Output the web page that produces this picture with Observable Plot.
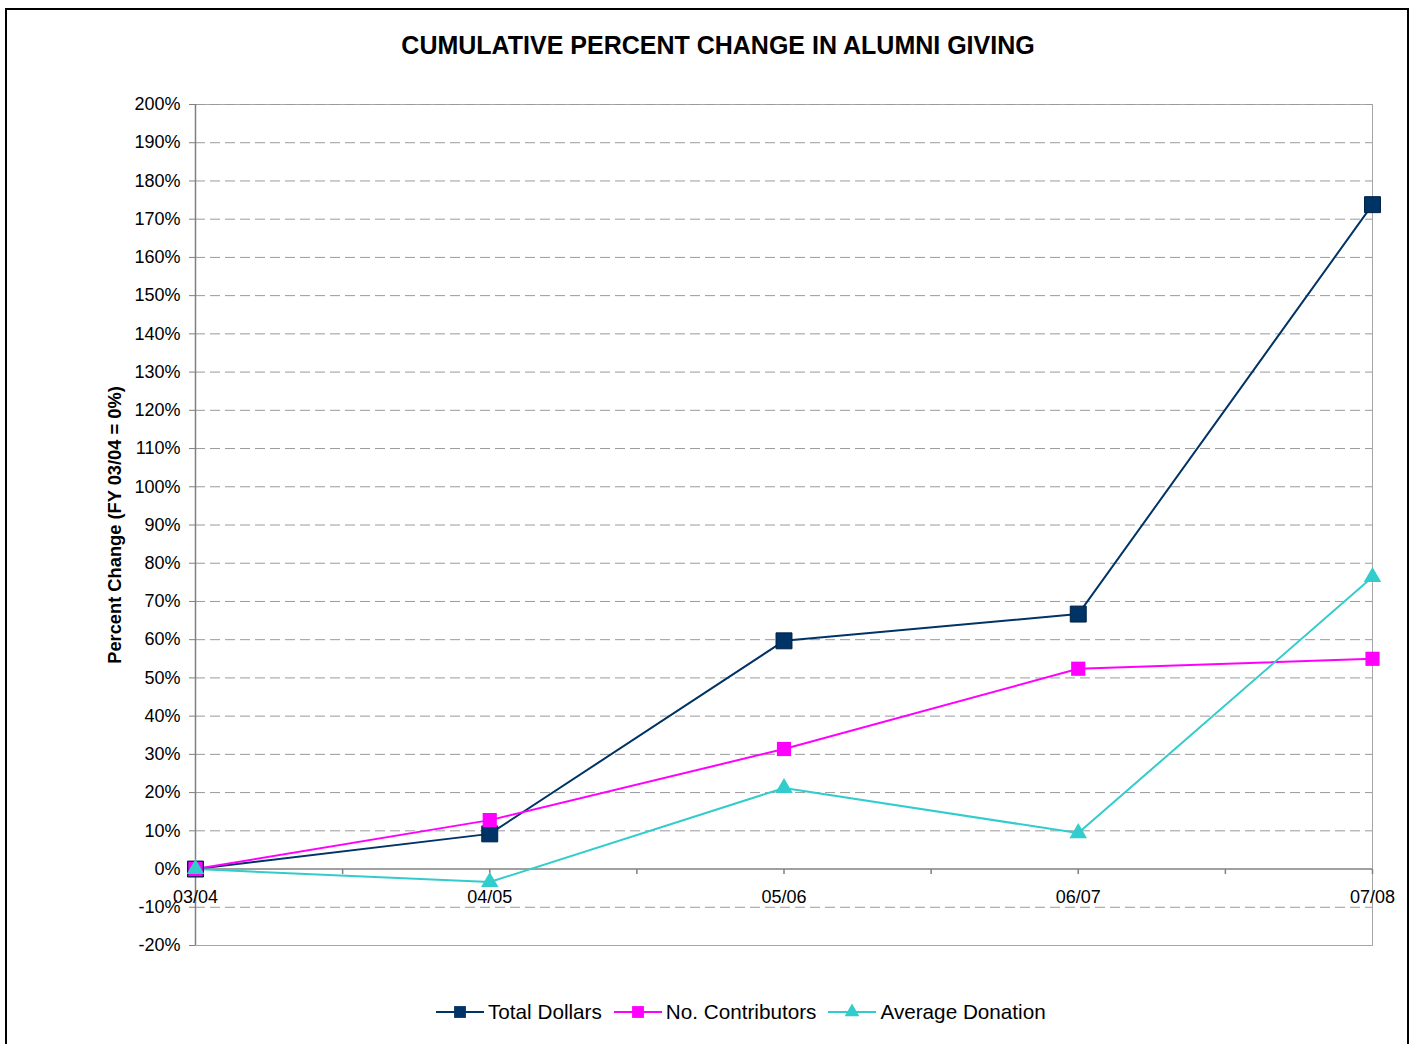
<!DOCTYPE html>
<html><head><meta charset="utf-8">
<script src="https://cdn.jsdelivr.net/npm/d3@7"></script>
<script src="https://cdn.jsdelivr.net/npm/@observablehq/plot@0.6"></script>
<style>
body{margin:0;background:#fff;font-family:Arial,"Liberation Sans",sans-serif;color:#000;}
#page{position:relative;width:1418px;height:1044px;overflow:hidden;}
#border{position:absolute;left:5px;top:8px;width:1400px;height:1100px;border:2px solid #000;}
#title{position:absolute;left:16px;width:1404px;top:30px;text-align:center;font-weight:bold;font-size:25px;line-height:30px;}
#chart{position:absolute;left:0;top:70px;}
#ylabel{position:absolute;left:115px;top:525px;transform:translate(-50%,-50%) rotate(-90deg);font-weight:bold;font-size:18.3px;white-space:nowrap;}
#legend{position:absolute;left:436px;top:1000px;display:flex;align-items:center;font-size:20.7px;height:24px;}
.item{display:flex;align-items:center;margin-right:12px;}
.item span{margin-left:4px;}
</style>
</head><body>
<div id="page">
  <div id="border"></div>
  <div id="title">CUMULATIVE PERCENT CHANGE IN ALUMNI GIVING</div>
  <div id="chart"></div>
  <div id="ylabel">Percent Change (FY 03/04 = 0%)</div>
  <div id="legend"></div>
</div>
<script>
// ---- data ----
const years = ["03/04", "04/05", "05/06", "06/07", "07/08"];
const totalDollars = [0, 9.2, 59.7, 66.7, 173.8];
const noContributors = [0, 12.8, 31.4, 52.4, 55.0];
const averageDonation = [0, -3.4, 21.2, 9.4, 76.4];
const seriesNames = ["Total Dollars", "No. Contributors", "Average Donation"];
const seriesColors = ["#003366", "#FF00FF", "#33CCCC"];
const yTicks = d3.range(-20, 201, 10);

const seriesValues = [totalDollars, noContributors, averageDonation];
const symbols = ["square", "square", "triangle"];
const radii = [9, 8, 6.5];

const tickDown = {draw(ctx) { ctx.moveTo(0, 0); ctx.lineTo(0, 5); }};
const xTickPos = d3.range(0, years.length - 1 + 0.01, 0.5);

const marks = [
  Plot.frame({stroke: "#a6a6a6"}),
  Plot.ruleY(yTicks.filter(d => d !== 0 && d !== -20), {stroke: "#9a9a9a", strokeDasharray: "10,5", strokeWidth: 1}),
  Plot.ruleX([0], {stroke: "#808080", strokeWidth: 1.5}),
  Plot.ruleY([0], {stroke: "#808080", strokeWidth: 1.5}),
  Plot.dot(xTickPos, {x: d => d, y: () => 0, symbol: tickDown, stroke: "#808080", fill: "none", r: 3}),
  Plot.axisY({ticks: yTicks, tickFormat: d => d + "%", tickSize: 6, tickPadding: 9, fontSize: 18, stroke: "#808080", fill: "#000", label: null}),
  Plot.text(years, {x: (d, i) => i, y: () => 0, text: d => d, dy: 28, fontSize: 18, fill: "#000"})
];
seriesValues.forEach((vals, s) => {
  marks.push(Plot.line(years, {x: (d, i) => i, y: (d, i) => vals[i], stroke: seriesColors[s], strokeWidth: 2}));
});
seriesValues.forEach((vals, s) => {
  marks.push(Plot.dot(years, {x: (d, i) => i, y: (d, i) => vals[i], symbol: symbols[s], r: radii[s],
    fill: seriesColors[s], stroke: s === 0 ? "#002244" : "none", strokeWidth: 1}));
});

const chart = Plot.plot({
  width: 1418,
  height: 910,
  marginLeft: 195,
  marginRight: 46,
  marginTop: 34,
  marginBottom: 35,
  x: {type: "linear", domain: [0, years.length - 1], axis: null},
  y: {type: "linear", domain: [-20, 200], axis: null},
  style: {fontFamily: "Arial, 'Liberation Sans', sans-serif", fontSize: "18px", background: "transparent", overflow: "visible", color: "#000"},
  marks
});
document.getElementById("chart").appendChild(chart);

// legend
const legend = d3.select("#legend");
seriesNames.forEach((name, s) => {
  const item = legend.append("div").attr("class", "item");
  const svg = item.append("svg").attr("width", 48).attr("height", 24);
  svg.append("line").attr("x1", 0).attr("x2", 48).attr("y1", 12).attr("y2", 12)
    .attr("stroke", seriesColors[s]).attr("stroke-width", 2);
  const sym = symbols[s] === "square" ? d3.symbolSquare : d3.symbolTriangle;
  const size = symbols[s] === "square" ? 140 : 95;
  svg.append("path").attr("transform", "translate(24,12)").attr("d", d3.symbol(sym, size)())
    .attr("fill", seriesColors[s]);
  item.append("span").text(name);
});
</script>
</body></html>
